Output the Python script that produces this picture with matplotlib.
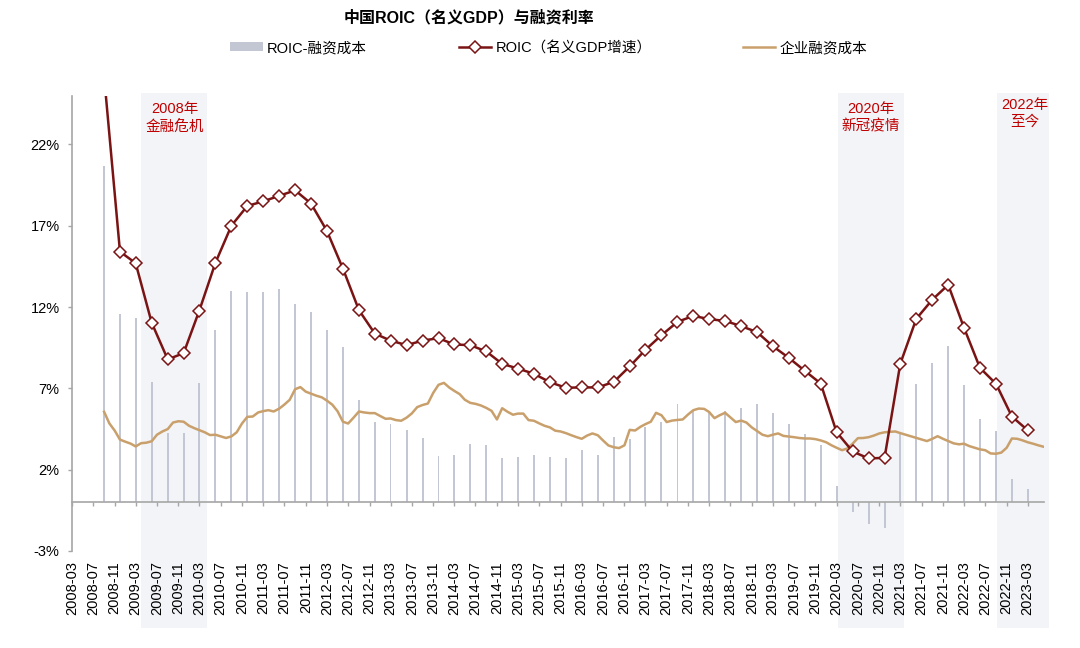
import matplotlib
matplotlib.use("Agg")
import matplotlib.pyplot as plt
from matplotlib.patches import Patch
from matplotlib.lines import Line2D
import pandas as pd

plt.rcParams['font.family'] = ['Liberation Sans', 'Noto Sans CJK SC', 'DejaVu Sans']

# ---------------- data ----------------
quarter_start = "2008-09-01"
roic = [26.2, 15.41,
        14.70, 11.03, 8.78, 9.17,
        11.79, 14.72, 17.01, 18.22,
        18.50, 18.84, 19.18, 18.37,
        16.69, 14.37, 11.81, 10.37,
        9.94, 9.66, 9.94, 10.09,
        9.70, 9.66, 9.27, 8.51,
        8.22, 7.90, 7.38, 7.04,
        7.06, 7.06, 7.40, 8.35,
        9.37, 10.27, 11.09, 11.46,
        11.26, 11.15, 10.83, 10.46,
        9.60, 8.88, 8.08, 7.30,
        4.31, 3.12, 2.69, 2.73,
        8.51, 11.28, 12.46, 13.37,
        10.74, 8.26, 7.28, 5.27,
        4.43]
spread = [20.66, 11.60,
          11.30, 7.40, 4.25, 4.23,
          7.34, 10.60, 13.00, 12.90,
          12.90, 13.10, 12.20, 11.70,
          10.60, 9.55, 6.26, 4.92,
          4.82, 4.43, 3.96, 2.84,
          2.88, 3.55, 3.51, 2.73,
          2.77, 2.88, 2.81, 2.75,
          3.20, 2.92, 4.04, 3.86,
          4.60, 4.95, 6.01, 5.60,
          5.50, 5.64, 5.81, 6.05,
          5.50, 4.84, 4.17, 3.49,
          0.97, -0.58, -1.34, -1.61,
          4.27, 7.26, 8.59, 9.60,
          7.22, 5.09, 4.35, 1.42,
          0.79]

month_start = "2008-09-01"
cost = [5.56, 4.85, 4.40, 3.85,                                              # 2008-09..12
        3.72, 3.60, 3.43, 3.63, 3.66, 3.75, 4.15, 4.35, 4.50, 4.90, 4.98, 4.95,   # 2009
        4.70, 4.55, 4.43, 4.30, 4.13, 4.15, 4.05, 3.95, 4.05, 4.30, 4.85, 5.25,   # 2010
        5.27, 5.52, 5.60, 5.66, 5.58, 5.75, 6.00, 6.30, 6.95, 7.08, 6.80, 6.68,   # 2011
        6.55, 6.45, 6.25, 6.00, 5.60, 4.95, 4.84, 5.20, 5.58, 5.52, 5.48, 5.48,   # 2012
        5.30, 5.13, 5.15, 5.05, 5.01, 5.20, 5.46, 5.85, 5.98, 6.07, 6.73, 7.22,   # 2013
        7.34, 7.05, 6.85, 6.65, 6.30, 6.11, 6.05, 5.95, 5.80, 5.62, 5.09, 5.78,   # 2014
        5.56, 5.38, 5.45, 5.45, 5.05, 5.01, 4.85, 4.70, 4.60, 4.40, 4.35, 4.25,   # 2015
        4.12, 4.00, 3.90, 4.10, 4.23, 4.12, 3.80, 3.49, 3.38, 3.33, 3.50, 4.45,   # 2016
        4.41, 4.64, 4.80, 4.95, 5.50, 5.35, 4.93, 5.02, 5.06, 5.09, 5.40, 5.66,   # 2017
        5.76, 5.74, 5.55, 5.17, 5.35, 5.50, 5.22, 4.93, 5.02, 4.90, 4.60, 4.38,   # 2018
        4.15, 4.06, 4.15, 4.23, 4.08, 4.04, 4.00, 3.95, 3.92, 3.92, 3.88, 3.80,   # 2019
        3.69, 3.50, 3.35, 3.20, 3.30, 3.60, 3.94, 3.95, 4.00, 4.10, 4.23, 4.30,   # 2020
        4.33, 4.35, 4.25, 4.15, 4.06, 3.95, 3.85, 3.76, 3.90, 4.06, 3.90, 3.76,   # 2021
        3.62, 3.56, 3.60, 3.45, 3.35, 3.25, 3.20, 3.00, 2.98, 3.05, 3.35, 3.92,   # 2022
        3.90, 3.80, 3.69, 3.60, 3.50, 3.41]                                   # 2023-01..06

periods = [("2009-04-01", "2010-04-15", "2008年\n金融危机"),
           ("2020-03-07", "2021-03-25", "2020年\n新冠疫情"),
           ("2022-09-07", "2023-07-04", "2022年\n至今")]

yticks = [-3, 2, 7, 12, 17, 22]

title = "中国ROIC（名义GDP）与融资利率"
lab_bar = "ROIC-融资成本"
lab_roic = "ROIC（名义GDP增速）"
lab_cost = "企业融资成本"

# ---------------- styles ----------------
c_bar = "#C3C7D4"
c_roic = "#7A1414"
c_cost = "#C9A06C"
c_shade = "#F3F4F7"
c_red = "#C00000"
c_axis = "#A6A6A6"

qd = pd.date_range(quarter_start, periods=len(roic), freq="3MS")
md = pd.date_range(month_start, periods=len(cost), freq="MS")

fig = plt.figure(figsize=(10.8, 6.48), dpi=100)
ax = fig.add_axes([72/1080, 1-551/648, (1044-72)/1080, (551-95.7)/648])

# shaded periods (extend over the tick-label area)
for s, e, txt in periods:
    ax.axvspan(pd.Timestamp(s), pd.Timestamp(e), ymin=-0.169, ymax=1.006,
               color=c_shade, lw=0, zorder=0, clip_on=False)

ax.bar(qd, spread, width=11, color=c_bar, lw=0, zorder=2)
ax.plot(md, cost, color=c_cost, lw=1.8, zorder=3)
ax.plot(qd, roic, color=c_roic, lw=1.8, marker="D", markersize=6,
        markerfacecolor="white", markeredgecolor=c_roic, markeredgewidth=1.1, zorder=4)

ax.set_ylim(-3, 25)
ax.set_xlim(pd.Timestamp("2008-03-01"), pd.Timestamp("2023-06-03"))

ax.set_yticks(yticks)
ax.set_yticklabels([f"{v}%" for v in yticks])

xt = pd.date_range("2008-03-01", "2023-03-01", freq="4MS")
ax.set_xticks(xt)
ax.set_xticklabels([d.strftime("%Y-%m") for d in xt])

for sp in ("top", "right"):
    ax.spines[sp].set_visible(False)
ax.spines["bottom"].set_position(("data", 0))
for sp in ("left", "bottom"):
    ax.spines[sp].set_color(c_axis)
    ax.spines[sp].set_linewidth(1.2)

ax.tick_params(axis="x", direction="out", length=3, width=1, color=c_axis,
               labelsize=10.5, pad=39.5, labelcolor="#000000", labelrotation=90)
ax.tick_params(axis="y", direction="out", length=3, width=1, color=c_axis,
               labelsize=10.5, pad=6, labelcolor="#000000")
for lab in ax.get_xticklabels():
    lab.set_va("top")
    lab.set_ha("center")

# annotations
tx = {0: "2009-10-10", 1: "2020-09-15", 2: "2023-02-15"}
ty = {0: 23.65, 1: 23.65, 2: 23.9}
for i, (s, e, txt) in enumerate(periods):
    ax.text(pd.Timestamp(tx[i]), ty[i], txt, color=c_red, fontsize=10.5,
            ha="center", va="center", linespacing=1.3, zorder=5)

fig.text(469/1080, 1-18/648, title, fontsize=11.5, fontweight="bold",
         ha="center", va="center")

handles = [Patch(facecolor=c_bar, edgecolor="none"),
           Line2D([], [], color=c_roic, lw=1.8, marker="D", markersize=6,
                  markerfacecolor="white", markeredgecolor=c_roic, markeredgewidth=1.1),
           Line2D([], [], color=c_cost, lw=1.8)]
fig.legend(handles, [lab_bar, lab_roic, lab_cost], loc="center",
           bbox_to_anchor=(549/1080, 1-48/648), ncol=3, frameon=False,
           fontsize=10.5, handlelength=2.2, handleheight=0.6, handletextpad=0.3,
           columnspacing=6.3)

fig.savefig("out.png", dpi=100)
